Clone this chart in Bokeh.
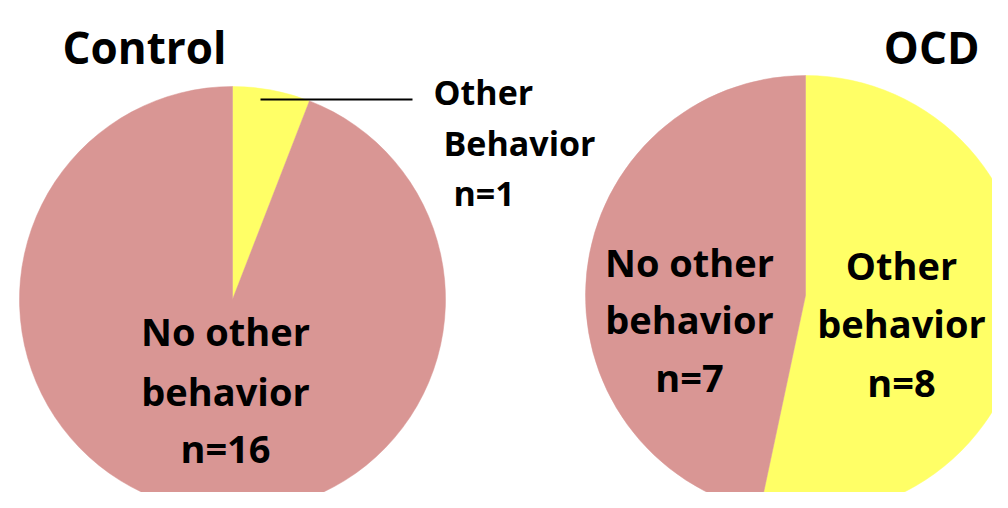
import numpy as np
from bokeh.plotting import figure
from bokeh.models import Range1d, ColumnDataSource
from bokeh.core.properties import value
from bokeh.embed import file_html
from bokeh.resources import INLINE

# ---- data ----
groups = ["Control", "OCD"]
categories = ["Other behavior", "No other behavior"]
control_counts = [1, 16]
ocd_counts = [8, 7]
colors = ["#FFFF66", "#D99694"]

control_labels = [["Other", "Behavior", "n=1"], ["No other", "behavior", "n=16"]]
ocd_labels = [["Other", "behavior", "n=8"], ["No other", "behavior", "n=7"]]

W, H = 1008, 508
FONT = "Open Sans"
BASE_SHIFT = 16  # compensates the renderer's baseline offset

p = figure(width=992, height=492, output_backend="svg", toolbar_location=None,
           x_range=Range1d(0, 992), y_range=Range1d(H - 492, H),
           min_border=0, outline_line_color=None, background_fill_color="white",
           border_fill_color="white")
p.axis.visible = False
p.grid.visible = False


def Y(img_y):
    return H - img_y


def pie(cx, cy, r, counts):
    counts = np.asarray(counts, dtype=float)
    frac = np.cumsum(counts) / counts.sum()
    a1 = frac * 2 * np.pi
    a0 = np.concatenate([[0.0], a1[:-1]])
    # clockwise from 12 o'clock
    src = ColumnDataSource(dict(
        start=np.pi / 2 - a1, end=np.pi / 2 - a0, color=colors[:len(counts)]))
    p.wedge(x=cx, y=Y(cy), radius=r, start_angle="start", end_angle="end",
            direction="anticlock", fill_color="color", line_color="color",
            line_width=0.5, source=src)


pie(232, 299, 213, control_counts)
pie(805, 295, 220, ocd_counts)


def txt(x, img_y, s, size, align="center"):
    p.text(x=[x], y=[Y(img_y - BASE_SHIFT)], text=[s], text_font=value(FONT),
           text_font_style="bold", text_font_size=f"{size}px",
           text_align=align, text_baseline="alphabetic", text_color="black")


# titles
txt(62, 62, groups[0], 44, "left")
txt(979, 62, groups[1], 44, "right")

# leader line for small slice
p.line(x=[260, 412], y=[Y(99), Y(99)], line_color="black", line_width=2)

# control labels
for s, x, yb in zip(control_labels[0], [433, 443, 453], [107, 158, 208]):
    txt(x, yb, s, 34, "left")
for s, yb in zip(control_labels[1], [346, 406, 463]):
    txt(225, yb, s, 38)

# OCD labels
for s, yb in zip(ocd_labels[0], [280, 338, 397]):
    txt(901, yb, s, 38)
for s, yb in zip(ocd_labels[1], [277, 334, 392]):
    txt(689, yb, s, 38)

open("out.html", "w").write(file_html(p, INLINE))
